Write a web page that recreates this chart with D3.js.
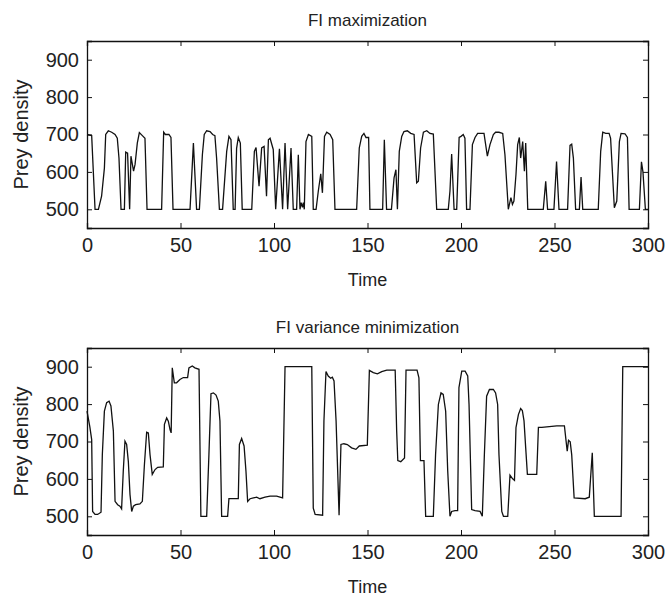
<!DOCTYPE html>
<html>
<head>
<meta charset="utf-8">
<script src="https://cdn.jsdelivr.net/npm/d3@7"></script>
<style>
  body { margin: 0; background: #fff; }
  svg text { font-family: "Liberation Sans", Arial, Helvetica, sans-serif; fill: #222; }
  .line { fill: none; stroke: #111; stroke-width: 1.3; }
</style>
</head>
<body>
<svg width="670" height="596"></svg>
<script>
// FI maximization
var maxTime = [0,2.5,4.3,6.1,7.8,9.3,10,11.4,13.2,15,16.2,17.1,18.2,20,20.7,21.7,22.8,23.5,24.9,25.7,26.9,28,29.6,31,32.1,39.9,41,41.9,43.8,44.9,46,55.1,56.9,58.6,60.1,61.7,62.7,64,65.8,67.2,68.4,69.3,70.8,72.5,74.7,75.9,77,78.2,79.2,80,80.9,82,83,88.1,89.5,90.4,92,93.4,94.7,96,97,97.9,99.6,100.9,102.9,104.6,105.9,107.3,109.1,110.3,112.1,113,113.9,114.5,115.2,115.7,116.2,117.1,118.4,120.2,121,122.5,123.7,125,125.9,127,128.2,130,131.4,132.6,144.2,145.6,146.9,148.1,149.2,150.6,151.3,158.1,159,160.2,162.8,164.2,165.2,166,167,168.3,169.5,171.3,173.1,174.9,176.3,177.2,178.4,179.9,181.7,183.4,185.2,187,193.2,194.1,195,196.3,197.7,199,200,201.2,202.1,203,204.8,206.1,207.5,208.9,211.1,212.3,214.1,215.5,217.3,218.5,220.3,222.3,223.5,225.3,226.7,227.5,228.3,229.4,230.3,231.2,231.9,233,233.9,234.6,235.7,244,245.3,246.3,249.7,251.1,252.4,257,258.3,259.2,260.1,261.3,263.3,264.2,265.1,273.4,274.7,275.8,277.4,279.2,280,282,283.3,284.7,285.6,287.7,289,289.9,295.4,296.5,297.3,298.6,300];
var maxDensity = [700,697,500,500,535,610,700,710,706,700,690,637,500,500,653,650,500,642,602,620,677,705,697,690,500,500,706,700,700,692,500,500,677,500,500,646,700,710,708,700,697,637,500,500,655,695,686,500,500,663,692,677,500,500,655,665,562,664,668,535,686,690,660,500,662,500,677,500,664,500,500,646,500,518,505,518,500,681,700,695,500,500,549,595,544,695,706,700,686,500,500,664,695,703,692,692,500,500,686,500,500,584,606,500,655,695,708,710,703,700,571,575,664,706,710,703,701,500,500,549,648,500,500,692,695,700,690,500,500,673,692,703,703,703,642,673,700,706,706,703,646,500,531,513,522,593,673,692,637,681,602,677,500,500,575,500,500,628,500,500,671,674,637,500,500,586,500,500,655,706,703,703,690,504,522,681,703,702,692,500,500,627,600,500,500];

// FI variance minimization
var varTime = [0,1.5,2.5,3,4.3,5.7,7.5,8.2,9.3,10.5,11.8,12.8,14.1,15,16.4,17.6,18.5,19.4,20.3,21.2,22.1,23,23.9,24.8,26,28.3,29.6,30.7,31.9,32.8,33.7,34.9,36.4,37.8,40.8,41.4,42.6,43.5,44.4,45,45.6,46.7,47.9,49.7,51.5,53.8,54.5,56.3,57.7,59.9,60.9,64,65.2,66.3,67.6,69,70.2,71.1,72,75.2,75.9,80.9,81.5,82.7,84,85,85.9,87.2,89,90.7,92.5,95.2,97.9,101.4,104.6,105.9,120.2,121,122,126,126.7,127.8,129,130.3,131.2,132.1,133.2,134.8,135.8,137.4,139.2,141.5,143.8,145.6,149.9,151,153.1,155.3,157.6,160.3,164.8,165.6,166.2,167.8,169.8,170.6,176.5,177.5,178.3,180.2,181.1,185.2,186.4,187.9,189.3,190.5,191.8,192.9,194.1,195,196.8,198.2,198.9,200.4,202.2,203.6,204.3,205.7,207.5,210.2,211.4,212.5,213.7,215.2,217.3,218.5,219.6,220.3,221.8,222.7,225,226.2,227.5,228.6,229.4,230.7,231.9,232.8,233.7,234.6,235.5,240.5,241.4,243.2,251.2,255.3,256.2,256.8,257.5,258.4,259.2,260.5,266.4,268.6,270.2,271.3,285.6,286.5,300];
var varDensity = [781,740,705,513,505,505,511,665,781,804,808,795,728,540,531,527,520,621,701,692,647,558,513,527,531,533,540,638,725,723,665,612,625,631,632,746,763,754,732,723,897,857,857,866,871,871,897,902,897,893,500,500,665,828,830,824,808,755,500,500,547,547,692,708,688,621,540,547,549,551,547,551,554,554,549,900,900,522,505,503,755,887,875,869,872,862,755,503,692,694,692,683,679,688,690,890,884,881,887,891,891,728,649,646,656,891,891,870,649,649,500,500,665,799,830,826,781,621,500,513,515,515,844,888,888,875,799,518,515,513,500,665,821,839,839,830,799,665,513,500,500,610,601,596,737,772,788,783,755,683,612,612,738,738,742,742,701,674,703,699,665,549,547,551,670,500,500,900,900];

var xTicks = [0, 50, 100, 150, 200, 250, 300];
var yTicks = [500, 600, 700, 800, 900];
var titles = ["FI maximization", "FI variance minimization"];

var svg = d3.select("svg");
var left = 87, right = 648, plotH = 187;
var panels = [
  {top: 41, title: titles[0], t: maxTime, v: maxDensity},
  {top: 348, title: titles[1], t: varTime, v: varDensity}
];

panels.forEach(function(p) {
  var x = d3.scaleLinear().domain([0, 300]).range([left, right]);
  var y = d3.scaleLinear().domain([450, 950]).range([p.top + plotH, p.top]);
  var g = svg.append("g");

  // box with inward ticks on all four sides
  g.append("g").attr("transform", "translate(0," + (p.top + plotH) + ")")
    .call(d3.axisBottom(x).tickValues(xTicks).tickSize(-5).tickPadding(10));
  g.append("g").attr("transform", "translate(0," + p.top + ")")
    .call(d3.axisTop(x).tickValues(xTicks).tickSize(-5).tickFormat(""));
  g.append("g").attr("transform", "translate(" + left + ",0)")
    .call(d3.axisLeft(y).tickValues(yTicks).tickSize(-5).tickPadding(8));
  g.append("g").attr("transform", "translate(" + right + ",0)")
    .call(d3.axisRight(y).tickValues(yTicks).tickSize(-5).tickFormat(""));

  g.selectAll(".domain").attr("stroke", "#111").attr("stroke-width", 1.3);
  g.selectAll(".tick line").attr("stroke", "#111");
  g.selectAll(".tick text").style("font-size", "20px").attr("fill", "#222");

  var line = d3.line()
    .x(function(d, i) { return x(p.t[i]); })
    .y(function(d) { return y(d); });
  g.append("path").attr("class", "line").attr("d", line(p.v));

  g.append("text")
    .attr("x", (left + right) / 2).attr("y", p.top - 15)
    .attr("text-anchor", "middle").style("font-size", "17px")
    .text(p.title);
  g.append("text")
    .attr("x", (left + right) / 2).attr("y", p.top + plotH + 58)
    .attr("text-anchor", "middle").style("font-size", "18px")
    .text("Time");
  g.append("text")
    .attr("transform", "translate(28," + (p.top + plotH / 2) + ") rotate(-90)")
    .attr("text-anchor", "middle").style("font-size", "20px")
    .text("Prey density");
});
</script>
</body>
</html>
